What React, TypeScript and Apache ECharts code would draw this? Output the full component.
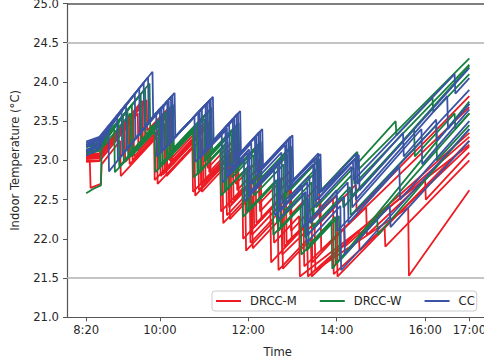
import React, { useEffect, useRef } from "react";
import * as echarts from "echarts";

// Time in minutes since midnight; value in °C
const X_TICKS = [500, 600, 720, 840, 960, 1020];
const X_TICK_LABELS = ["8:20", "10:00", "12:00", "14:00", "16:00", "17:00"];
const Y_MIN = 21.0;
const Y_MAX = 25.0;
const COMFORT_BOUNDS = [21.5, 24.5];
const SERIES_NAMES = ["DRCC-M", "DRCC-W", "CC"];
const SERIES_COLORS = ["#ed1c24", "#178040", "#3a53a4"];

const DRCC_M_RUNS: [number, number][][] = [
  [[500,23.02],[518,23.03],[582,23.77],[583,23.38],[612,23.67],[613,23.00],[664,23.51],[665,22.90],[702,23.27],[703,22.70],[734,23.01],[735,22.45],[776,22.86],[777,22.30],[816,22.69],[817,22.20],[866,22.69],[867,22.35],[1020,23.82]],
  [[500,23.00],[518,23.00],[570,23.60],[571,23.12],[606,23.47],[607,22.85],[658,23.36],[659,22.72],[696,23.09],[697,22.45],[727,22.75],[728,22.15],[768,22.55],[769,21.90],[806,22.27],[807,21.70],[850,22.13],[851,21.90],[1020,23.30]],
  [[500,23.04],[518,23.06],[558,23.52],[559,22.95],[600,23.36],[601,22.80],[652,23.31],[653,22.62],[690,22.99],[691,22.30],[722,22.61],[723,21.95],[760,22.32],[761,21.60],[800,21.99],[801,21.52],[1020,23.35]],
  [[500,23.00],[505,22.98],[506,22.65],[520,22.70],[521,22.95],[546,23.25],[547,22.80],[596,23.30],[597,22.70],[647,23.20],[648,22.55],[685,22.92],[686,22.20],[716,22.50],[717,21.85],[754,22.22],[755,21.95],[789,22.29],[790,21.52],[1020,23.20]],
  [[500,23.08],[518,23.09],[576,23.76],[577,23.25],[616,23.64],[617,22.95],[668,23.46],[669,22.80],[706,23.17],[707,22.55],[737,22.85],[738,22.25],[778,22.65],[779,22.00],[840,22.55],[841,21.52],[1020,23.25]],
  [[500,23.02],[518,23.04],[564,23.57],[565,23.05],[603,23.43],[604,22.82],[655,23.33],[656,22.68],[693,23.05],[694,22.40],[724,22.70],[725,22.05],[765,22.45],[766,21.80],[810,22.20],[811,21.60],[937,22.40],[938,21.53],[1020,22.62]],
  [[500,23.06],[518,23.07],[552,23.46],[553,22.98],[592,23.38],[593,22.75],[644,23.26],[645,22.60],[682,22.97],[683,22.35],[712,22.64],[713,22.00],[750,22.37],[751,21.70],[795,22.14],[796,21.65],[1020,23.68]],
  [[500,23.04],[518,23.05],[579,23.75],[580,23.30],[614,23.64],[615,22.98],[666,23.49],[667,22.85],[704,23.22],[705,22.62],[735,22.92],[736,22.35],[777,22.76],[778,22.10],[818,22.50],[819,21.85],[880,22.40],[881,22.05],[960,22.75],[961,22.50],[1020,23.10]],
  [[500,22.98],[518,22.99],[562,23.50],[563,23.00],[608,23.45],[609,22.80],[656,23.27],[657,22.60],[694,22.97],[695,22.25],[725,22.55],[726,21.88],[766,22.28],[767,21.62],[805,22.00],[806,21.52],[870,22.10],[871,21.85],[1020,23.18]],
  [[500,23.06],[518,23.08],[573,23.71],[574,23.20],[609,23.55],[610,22.90],[661,23.41],[662,22.75],[699,23.12],[700,22.50],[730,22.80],[731,22.20],[771,22.60],[772,21.95],[835,22.52],[836,21.55],[905,22.15],[906,21.90],[1020,23.00]],
];

const DRCC_W_RUNS: [number, number][][] = [
  [[500,23.20],[518,23.22],[586,23.98],[587,23.40],[618,23.71],[619,23.16],[670,23.67],[671,23.12],[707,23.48],[708,22.95],[737,23.24],[738,22.78],[778,23.18],[779,22.65],[816,23.02],[817,22.60],[868,23.11],[869,22.88],[1020,24.30]],
  [[500,23.17],[518,23.20],[574,23.84],[575,23.26],[613,23.64],[614,23.10],[665,23.61],[666,23.05],[702,23.41],[703,22.88],[732,23.17],[733,22.68],[773,23.08],[774,22.52],[811,22.89],[812,22.40],[863,22.91],[864,22.70],[1020,24.22]],
  [[500,23.14],[518,23.17],[562,23.71],[563,23.13],[608,23.58],[609,23.02],[660,23.53],[661,22.98],[697,23.34],[698,22.78],[727,23.07],[728,22.55],[768,22.95],[769,22.35],[806,22.72],[807,22.15],[858,22.66],[859,22.30],[975,23.45],[976,23.00],[1020,23.45]],
  [[500,23.11],[518,23.14],[550,23.57],[551,22.99],[603,23.51],[604,22.95],[655,23.46],[656,22.88],[692,23.24],[693,22.65],[722,22.94],[723,22.38],[763,22.78],[764,22.15],[801,22.52],[802,21.92],[838,22.28],[839,21.68],[1020,23.60]],
  [[500,23.08],[518,23.12],[538,23.43],[539,22.85],[598,23.44],[599,22.90],[650,23.41],[651,22.82],[687,23.18],[688,22.60],[717,22.89],[718,22.35],[758,22.75],[759,22.20],[796,22.57],[797,22.02],[848,22.53],[849,22.40],[1020,24.20]],
  [[500,22.58],[510,22.64],[520,22.68],[521,23.15],[560,23.60],[561,23.05],[593,23.37],[594,22.85],[645,23.36],[646,22.78],[682,23.14],[683,22.55],[712,22.84],[713,22.28],[753,22.68],[754,22.05],[791,22.42],[792,21.80],[833,22.21],[834,21.62],[1020,23.75]],
  [[500,23.18],[518,23.21],[580,23.91],[581,23.33],[616,23.68],[617,23.13],[668,23.64],[669,23.09],[705,23.45],[706,22.92],[735,23.21],[736,22.74],[776,23.14],[777,22.62],[814,22.99],[815,22.58],[866,23.09],[867,22.95],[920,23.50],[921,23.32],[970,23.80],[971,23.62],[1020,24.10]],
  [[500,23.13],[518,23.16],[556,23.64],[557,23.06],[610,23.63],[611,23.07],[662,23.58],[663,23.02],[699,23.38],[700,22.84],[729,23.13],[730,22.63],[770,23.03],[771,22.45],[808,22.82],[809,22.30],[860,22.81],[861,22.55],[945,23.40],[946,23.05],[1000,23.60],[1001,23.40],[1020,23.60]],
  [[500,23.10],[518,23.13],[544,23.50],[545,22.92],[600,23.52],[601,22.95],[652,23.46],[653,22.85],[689,23.21],[690,22.62],[719,22.91],[720,22.35],[760,22.75],[761,22.10],[798,22.47],[799,21.85],[843,22.29],[844,21.72],[895,22.25],[896,22.05],[1020,23.40]],
];

const CC_RUNS: [number, number][][] = [
  [[500,23.24],[518,23.30],[590,24.13],[591,23.55],[620,23.86],[621,23.30],[672,23.81],[673,23.25],[709,23.63],[710,23.10],[739,23.40],[740,22.92],[780,23.32],[781,22.75],[818,23.08],[819,22.60],[870,23.07],[871,22.62],[1020,24.18]],
  [[500,23.20],[518,23.27],[578,23.99],[579,23.41],[615,23.81],[616,23.25],[667,23.76],[668,23.20],[704,23.58],[705,23.05],[734,23.35],[735,22.87],[775,23.27],[776,22.70],[813,23.03],[814,22.50],[865,23.02],[866,22.50],[990,23.82],[991,23.40],[1020,23.72]],
  [[500,23.17],[518,23.24],[566,23.85],[567,23.27],[610,23.76],[611,23.20],[662,23.71],[663,23.15],[699,23.53],[700,23.00],[729,23.30],[730,22.80],[770,23.20],[771,22.60],[808,22.95],[809,22.40],[860,22.92],[861,22.40],[955,23.40],[956,22.95],[1020,23.65]],
  [[500,23.13],[518,23.21],[554,23.72],[555,23.14],[605,23.71],[606,23.15],[657,23.66],[658,23.10],[694,23.48],[695,22.92],[724,23.22],[725,22.70],[765,23.10],[766,22.45],[803,22.80],[804,22.20],[855,22.72],[856,22.20],[925,22.92],[926,22.50],[1020,23.50]],
  [[500,23.10],[518,23.18],[542,23.58],[543,23.00],[600,23.66],[601,23.10],[652,23.61],[653,23.02],[689,23.38],[690,22.80],[719,23.10],[720,22.55],[760,22.95],[761,22.25],[798,22.60],[799,21.95],[845,22.42],[846,21.60],[1020,23.40]],
  [[500,23.06],[518,23.15],[530,23.44],[531,22.86],[595,23.61],[596,23.05],[647,23.56],[648,22.98],[684,23.33],[685,22.72],[714,23.02],[715,22.48],[755,22.88],[756,22.30],[793,22.68],[794,22.15],[840,22.62],[841,22.10],[1020,23.90]],
  [[500,23.22],[518,23.28],[584,24.06],[585,23.48],[617,23.83],[618,23.27],[669,23.78],[670,23.22],[706,23.60],[707,23.07],[736,23.37],[737,22.90],[777,23.30],[778,22.72],[815,23.09],[816,22.58],[867,23.09],[868,22.70],[930,23.35],[931,23.05],[975,23.52],[976,23.25],[1020,23.72]],
  [[500,23.19],[518,23.26],[572,23.92],[573,23.34],[612,23.76],[613,23.22],[664,23.73],[665,23.17],[701,23.53],[702,23.02],[731,23.31],[732,22.84],[772,23.24],[773,22.65],[810,23.02],[811,22.48],[862,22.99],[863,22.75],[1000,24.10],[1001,23.85],[1020,24.05]],
  [[500,23.12],[518,23.20],[548,23.65],[549,23.07],[602,23.68],[603,23.12],[654,23.63],[655,23.05],[691,23.41],[692,22.85],[721,23.14],[722,22.60],[762,23.00],[763,22.35],[800,22.72],[801,22.05],[850,22.54],[851,21.80],[912,22.42],[913,22.15],[1020,23.25]],
];

const GROUPS = [DRCC_M_RUNS, DRCC_W_RUNS, CC_RUNS];

const FONT = "DejaVu Sans";
const TEXT_COLOR = "#262626";
const AXIS_COLOR = "#555555";

export default function App() {
  const ref = useRef<HTMLDivElement>(null);

  useEffect(() => {
    document.body.style.margin = "0";
    if (!ref.current) return;
    const chart = echarts.init(ref.current, undefined, { renderer: "svg" });

    const series: any[] = [];
    GROUPS.forEach((runs, g) => {
      runs.forEach((run) => {
        series.push({
          type: "line",
          name: SERIES_NAMES[g],
          data: run,
          showSymbol: false,
          symbol: "none",
          silent: true,
          lineStyle: { color: SERIES_COLORS[g], width: 1.8 },
          itemStyle: { color: SERIES_COLORS[g] },
          z: 2 + g,
        });
      });
    });

    series.push({
      type: "line",
      name: "bounds",
      data: [],
      silent: true,
      markLine: {
        silent: true,
        symbol: ["none", "none"],
        label: { show: false },
        animation: false,
        data: [
          ...COMFORT_BOUNDS.map((v) => ({ yAxis: v, lineStyle: { color: "#b0b0b0", width: 1.5, type: "solid" } })),
          { yAxis: Y_MAX, lineStyle: { color: AXIS_COLOR, width: 1.5, type: "solid" } },
        ],
      },
      z: 1,
    });

    chart.setOption({
      animation: false,
      grid: { left: 67, top: 3.5, width: 421.5, height: 313.8, containLabel: false, outerBoundsMode: "none" },
      legend: {
        data: SERIES_NAMES,
        left: 212,
        top: 291,
        icon: "rect",
        itemWidth: 25,
        itemHeight: 2,
        itemGap: 23,
        padding: [4, 2, 4, 4],
        borderColor: "#cccccc",
        borderWidth: 1,
        borderRadius: 3,
        backgroundColor: "rgba(255,255,255,0.85)",
        textStyle: { fontFamily: FONT, fontSize: 11.6, color: TEXT_COLOR, padding: [0, 0, 0, 4] },
      },
      xAxis: {
        type: "value",
        min: 474,
        max: 1046,
        name: "Time",
        nameLocation: "middle",
        nameGap: 29,
        nameTextStyle: { fontFamily: FONT, fontSize: 11.6, color: TEXT_COLOR },
        axisLine: { show: true, lineStyle: { color: AXIS_COLOR, width: 1.2 } },
        axisTick: { show: true, length: 4, customValues: X_TICKS, lineStyle: { color: AXIS_COLOR } },
        axisLabel: {
          customValues: X_TICKS,
          margin: 7,
          fontFamily: FONT,
          fontSize: 11.6,
          color: TEXT_COLOR,
          formatter: (v: number) => {
            const i = X_TICKS.indexOf(Math.round(v));
            return i >= 0 ? X_TICK_LABELS[i] : "";
          },
        },
        splitLine: { show: false },
      },
      yAxis: {
        type: "value",
        min: Y_MIN,
        max: Y_MAX,
        interval: 0.5,
        name: "Indoor Temperature (°C)",
        nameLocation: "middle",
        nameGap: 46,
        nameTextStyle: { fontFamily: FONT, fontSize: 11.6, color: TEXT_COLOR },
        axisLine: { show: true, lineStyle: { color: AXIS_COLOR, width: 1.2 } },
        axisTick: { show: true, length: 4, lineStyle: { color: AXIS_COLOR } },
        axisLabel: {
          margin: 8,
          fontFamily: FONT,
          fontSize: 11.6,
          color: TEXT_COLOR,
          formatter: (v: number) => v.toFixed(1),
        },
        splitLine: { show: false },
      },
      series,
    });

    return () => chart.dispose();
  }, []);

  return <div ref={ref} style={{ width: 484, height: 358 }} />;
}
